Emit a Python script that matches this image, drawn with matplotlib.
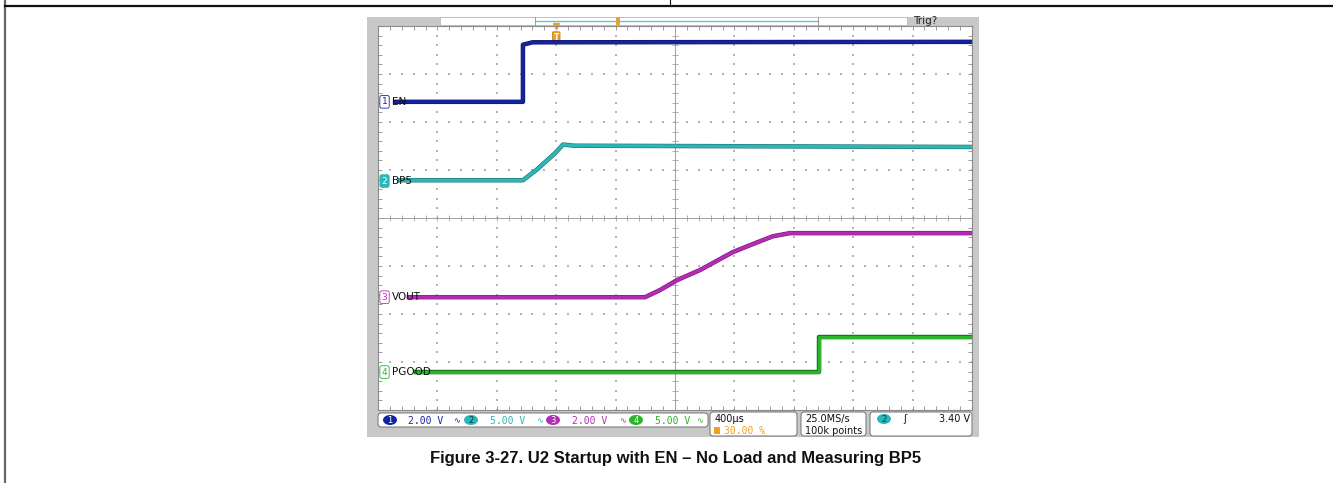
import numpy as np
import matplotlib.pyplot as plt
import matplotlib.patheffects as pe
from matplotlib.patches import Rectangle, FancyBboxPatch, Ellipse
from matplotlib.transforms import blended_transform_factory

W, H = 1333, 483

# scope settings: 400 us/div, trigger at 30 %
t_div = 400.0
trig_pos = 0.30
n_xdiv, n_ydiv = 10, 8

# channels: name, colour, V/div, ground marker (divisions from bottom)
ch_names = ['EN', 'BP5', 'VOUT', 'PGOOD']
ch_colors = ['#1424a0', '#2cb6b6', '#b42cb4', '#2cb42c']
ch_edges = ['#0a1060', '#1a6e6e', '#701670', '#186e18']
ch_vdiv = [2.0, 5.0, 2.0, 5.0]
ch_ground = [6.42, 4.77, 2.35, 0.79]

# traces (time in us relative to trigger, volts)
en_t = [-1085, -224, -224, -160, 2800]
en_v = [0.0, 0.0, 2.38, 2.48, 2.5]
bp5_t = [-1052, -224, -130, -8, 46, 120, 2800]
bp5_v = [0.08, 0.08, 1.2, 2.9, 3.8, 3.68, 3.55]
vout_t = [-992, 598, 700, 813, 968, 1190, 1339, 1460, 1574, 2800]
vout_v = [0.0, 0.0, 0.3, 0.71, 1.13, 1.88, 2.25, 2.54, 2.67, 2.67]
pg_t = [-944, 1770, 1770, 2800]
pg_v = [0.0, 0.0, 3.65, 3.65]
traces = [(en_t, en_v), (bp5_t, bp5_v), (vout_t, vout_v), (pg_t, pg_v)]

# status bar texts
ch_scale_labels = ['2.00 V', '5.00 V', '2.00 V', '5.00 V']
timebase_label = '400µs'
trig_pos_label = '30.00 %'
rate_label = '25.0MS/s'
points_label = '100k points'
trig_level_label = '3.40 V'
caption = 'Figure 3-27. U2 Startup with EN \u2013 No Load and Measuring BP5'

fig = plt.figure(figsize=(W / 100, H / 100), dpi=100)

# background in pixel coordinates
bg = fig.add_axes([0, 0, 1, 1], zorder=0)
bg.set_xlim(0, W)
bg.set_ylim(H, 0)
bg.axis('off')

# document frame lines
bg.plot([5, 5], [0, H], color='#666666', lw=1.6)
bg.plot([5, W], [6, 6], color='#111111', lw=1.6)
bg.plot([670, 670], [0, 6], color='#111111', lw=0.8)

# scope screen frame
bg.add_patch(Rectangle((367, 17), 612, 420, facecolor='#c8c8c8', edgecolor='none'))
bg.add_patch(Rectangle((440, 17), 467, 8, facecolor='white', edgecolor='#b0b0b0', lw=0.5))
bg.plot([535, 818], [21, 21], color='#5cc8d0', lw=1.0)
bg.plot([535, 535], [17, 25], color='#909090', lw=0.6)
bg.plot([818, 818], [17, 25], color='#909090', lw=0.6)
bg.add_patch(Rectangle((616, 17), 4, 8, facecolor='#f0a020', edgecolor='none'))
bg.text(913, 21.5, 'Trig?', fontsize=7.5, va='center', ha='left', color='#202020')

# graticule axes
gx0, gx1, gy0, gy1 = 378, 972, 26, 410
rect = [gx0 / W, 1 - gy1 / H, (gx1 - gx0) / W, (gy1 - gy0) / H]
xlim = (-trig_pos * n_xdiv * t_div, (1 - trig_pos) * n_xdiv * t_div)

sc = fig.add_axes(rect, zorder=1)
sc.set_facecolor('white')
sc.set_xlim(*xlim)
sc.set_ylim(0, n_ydiv)
for s in sc.spines.values():
    s.set_color('#8a8a8a')
    s.set_linewidth(0.8)
sc.set_xticks(np.arange(xlim[0], xlim[1] + 1, t_div))
sc.set_xticks(np.arange(xlim[0], xlim[1] + 1, t_div / 5), minor=True)
sc.set_yticks(np.arange(0, n_ydiv + 1, 1))
sc.set_yticks(np.arange(0, n_ydiv + 0.01, 0.2), minor=True)
sc.tick_params(which='both', direction='in', length=3, width=0.6, color='#8a8a8a',
               top=True, right=True, labelbottom=False, labelleft=False)

xc = xlim[0] + n_xdiv / 2 * t_div
# dotted graticule
xs_minor = np.arange(xlim[0], xlim[1] + 1, t_div / 5)
ys_minor = np.arange(0, n_ydiv + 0.01, 0.2)
for k in range(1, n_xdiv):
    xk = xlim[0] + k * t_div
    if xk == xc:
        continue
    sc.scatter(np.full(len(ys_minor), xk), ys_minor, s=0.6, marker='s', color='#b4b4b4', lw=0)
for j in range(1, n_ydiv):
    if j == n_ydiv / 2:
        continue
    sc.scatter(xs_minor, np.full(len(xs_minor), j), s=0.6, marker='s', color='#b4b4b4', lw=0)
# centre cross with ticks
sc.axvline(xc, color='#a0a0a0', lw=0.7)
sc.axhline(n_ydiv / 2, color='#a0a0a0', lw=0.7)
sc.plot(np.full(len(ys_minor), xc), ys_minor, ls='none', marker='_', ms=5, mew=0.6, color='#a0a0a0')
sc.plot(xs_minor, np.full(len(xs_minor), n_ydiv / 2), ls='none', marker='|', ms=5, mew=0.6, color='#a0a0a0')

# trigger position marker
trans_top = blended_transform_factory(sc.transData, sc.transAxes)
sc.text(0, 0.982, 'T', transform=trans_top, fontsize=5.5, color='white', fontweight='bold',
        ha='center', va='top', clip_on=False,
        bbox=dict(boxstyle='round,pad=0.15', facecolor='#f0a020', edgecolor='#c07800', lw=0.5))
sc.plot([0], [1.0], transform=trans_top, marker='v', ms=4, color='#f0a020', clip_on=False)

# channel traces, each on its own vertical scale
for i, (name, col, edge, vdiv, g) in enumerate(zip(ch_names, ch_colors, ch_edges, ch_vdiv, ch_ground)):
    ax = fig.add_axes(rect, zorder=2 + i)
    ax.set_facecolor('none')
    ax.set_xlim(*xlim)
    ax.set_ylim(-g * vdiv, (n_ydiv - g) * vdiv)
    ax.axis('off')
    t, v = traces[i]
    ax.plot(t, v, color=col, lw=2.4, solid_joinstyle='round',
            path_effects=[pe.Stroke(linewidth=3.2, foreground=edge), pe.Normal()])
    tr = blended_transform_factory(ax.transAxes, ax.transData)
    if i == 1:
        ax.text(0.011, 0, '2', transform=tr, fontsize=6.5, color='white', ha='center', va='center',
                clip_on=False, bbox=dict(boxstyle='round,pad=0.2', facecolor=col, edgecolor=col, lw=0.6))
    else:
        ax.text(0.011, 0, str(i + 1), transform=tr, fontsize=6.5, color=col, ha='center', va='center',
                clip_on=False, bbox=dict(boxstyle='round,pad=0.2', facecolor='white', edgecolor=col, lw=0.6))
    ax.text(0.023, 0, name, transform=tr, fontsize=7.5, color='#101010', ha='left', va='center',
            clip_on=False)

# trigger level marker on right edge
bg.plot([968], [156], marker='<', ms=3.5, color='#2cb6b6', zorder=10)

# status bar
def rbox(x, y, w, h):
    bg.add_patch(FancyBboxPatch((x, y), w, h, boxstyle='round,pad=0,rounding_size=3',
                                facecolor='white', edgecolor='#707070', lw=0.7))

rbox(378, 413, 330, 14)
circ_x = [390, 471, 553, 636]
text_x = [408, 490, 572, 655]
sym_x = [457, 540, 623, 700]
for i in range(4):
    bg.add_patch(Ellipse((circ_x[i], 420), 14, 10, facecolor=ch_colors[i], edgecolor='none'))
    bg.text(circ_x[i], 420.5, str(i + 1), fontsize=6, color='white' if i != 1 else '#0a3a3a',
            ha='center', va='center')
    bg.text(text_x[i], 420.5, ch_scale_labels[i], fontsize=7, color=ch_colors[i],
            ha='left', va='center', family='DejaVu Sans Mono')
    bg.text(sym_x[i], 420.5, '\u223f', fontsize=6, color=ch_colors[i], ha='center', va='center')

rbox(710, 412, 87, 24)
bg.text(715, 419, timebase_label, fontsize=7, color='#101010', ha='left', va='center')
bg.add_patch(Rectangle((714, 427), 6, 7, facecolor='#f0a020', edgecolor='none'))
bg.text(724, 431, trig_pos_label, fontsize=7, color='#f0a020', ha='left', va='center',
        family='DejaVu Sans Mono')

rbox(801, 412, 65, 24)
bg.text(805, 419, rate_label, fontsize=7, color='#101010', ha='left', va='center')
bg.text(805, 431, points_label, fontsize=7, color='#101010', ha='left', va='center')

rbox(870, 412, 102, 24)
bg.add_patch(Ellipse((884, 419), 14, 10, facecolor=ch_colors[1], edgecolor='none'))
bg.text(884, 419.5, '2', fontsize=6, color='#0a3a3a', ha='center', va='center')
bg.text(905, 419, '\u0283', fontsize=7, color='#101010', ha='center', va='center')
bg.text(970, 419, trig_level_label, fontsize=7, color='#101010', ha='right', va='center')

# caption
bg.text(676, 458, caption, fontsize=12, fontweight='bold', family='Liberation Sans',
        ha='center', va='center', color='#111111')

fig.savefig('out.png', dpi=100)
